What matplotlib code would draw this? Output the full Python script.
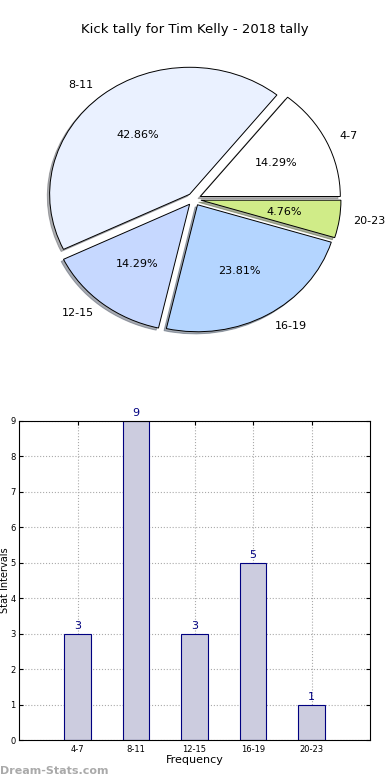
import numpy as np
import matplotlib
matplotlib.use('Agg')
import matplotlib.pyplot as plt

# data
intervals = ['4-7', '8-11', '12-15', '16-19', '20-23']
counts = [3, 9, 3, 5, 1]
pie_colors = ['#ffffff', '#eaf1ff', '#c6d8ff', '#b4d5ff', '#d0ec88']

fig = plt.figure(figsize=(3.9, 7.8), dpi=100)
W, H = 390.0, 780.0

#-------------------------
# pie on top
axp = fig.add_axes([19 / W, 422 / H, 350 / W, 317.5 / H])
wedges, texts, autotexts = axp.pie(counts, labels=intervals, colors=pie_colors,
                                   explode=[0.05] * 5, autopct='%.2f%%',
                                   shadow={'ox': -0.012, 'oy': -0.012, 'shade': 0.6},
                                   startangle=0, counterclock=True,
                                   wedgeprops={'edgecolor': 'black', 'linewidth': 0.7},
                                   textprops={'fontsize': 8})
axp.set_aspect('auto')
axp.set_xlim(-1.25, 1.25)
axp.set_ylim(-1.25, 1.25)
axp.axis('off')

fig.text(0.5, 1 - 30 / H, 'Kick tally for Tim Kelly - 2018 tally',
         ha='center', va='center', fontsize=9.5)

#-------------------------
# bar chart below
axb = fig.add_axes([19 / W, 40 / H, 351 / W, 319 / H])
x = np.arange(len(intervals))
axb.bar(x, counts, width=0.45, color='#ccccdf', edgecolor='#000080', linewidth=0.8, zorder=2)
for xi, c in zip(x, counts):
    axb.text(xi, c + 0.08, str(c), ha='center', va='bottom', color='#000080', fontsize=8)
axb.set_xlim(-1, 5)
axb.set_ylim(0, 9)
axb.set_xticks(x)
axb.set_xticklabels(intervals)
axb.set_yticks(range(10))
axb.tick_params(axis='both', direction='in', labelsize=6, top=True, right=True, length=3)
axb.tick_params(axis='y', pad=2.5)
axb.grid(color='#aaaaaa', linestyle=':', linewidth=0.8, zorder=0)
axb.set_axisbelow(True)
axb.set_xlabel('Frequency', fontsize=8, labelpad=1)
axb.set_ylabel('Stat Intervals', fontsize=7)
axb.yaxis.set_label_coords(-0.027, 0.5)

fig.text(0.0, 1 - 771 / H, 'Dream-Stats.com', ha='left', va='center',
         fontsize=8, color='#aaaaaa', fontweight='bold')

fig.savefig('out.png', dpi=100)
